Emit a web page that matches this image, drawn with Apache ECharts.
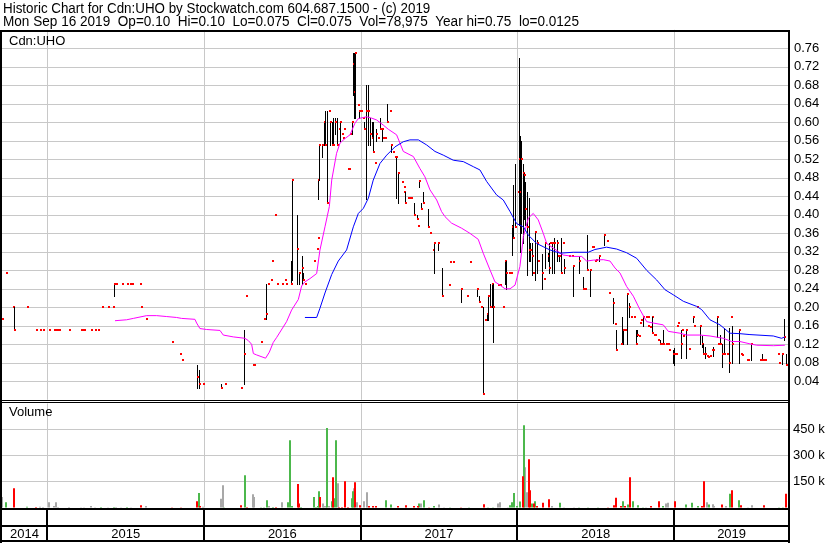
<!DOCTYPE html>
<html><head><meta charset="utf-8">
<script src="https://cdn.jsdelivr.net/npm/echarts@6/dist/echarts.min.js"></script>
<style>html,body{margin:0;padding:0;background:#fff}#c{width:830px;height:543px}</style>
</head><body><div id="c"></div>
<script>
const titleLine1 = 'Historic Chart for Cdn:UHO by Stockwatch.com 604.687.1500 - (c) 2019';
const titleLine2 = 'Mon Sep 16 2019  Op=0.10  Hi=0.10  Lo=0.075  Cl=0.075  Vol=78,975  Year hi=0.75  lo=0.0125';
const symbolLabel = 'Cdn:UHO';
const volumeLabel = 'Volume';
const xMin = 2014.7109, xMax = 2019.7269;
const yearTicks = [2015, 2016, 2017, 2018, 2019];
const yearLabels = ['2014', '2015', '2016', '2017', '2018', '2019'];
const yearLabelPos = [2014.855, 2015.5, 2016.5, 2017.5, 2018.5, 2019.367];

// price bars: [decimal year, low, high, close]
const priceBars = [
[2014.709,.175,.175,.175],[2014.736,.275,.275,.275],[2014.779,.20,.20,.20],[2014.787,.15,.20,.15],
[2014.868,.20,.20,.20],[2014.928,.15,.15,.15],[2014.953,.15,.15,.15],[2014.970,.15,.15,.15],
[2015.011,.15,.15,.15],[2015.045,.15,.15,.15],[2015.055,.15,.15,.15],[2015.066,.15,.15,.15],
[2015.077,.15,.15,.15],[2015.138,.15,.15,.15],[2015.215,.15,.15,.15],[2015.226,.15,.15,.15],
[2015.234,.15,.15,.15],[2015.279,.15,.15,.15],[2015.304,.15,.15,.15],[2015.321,.15,.15,.15],
[2015.347,.20,.20,.20],[2015.385,.20,.20,.20],[2015.417,.20,.20,.20],[2015.428,.225,.25,.25],
[2015.438,.25,.25,.25],[2015.477,.25,.25,.25],[2015.508,.25,.25,.25],[2015.528,.25,.25,.25],
[2015.540,.25,.25,.25],[2015.591,.25,.25,.25],[2015.598,.20,.20,.20],[2015.630,.175,.175,.175],
[2015.793,.125,.125,.125],[2015.849,.10,.10,.10],[2015.857,.085,.085,.085],[2015.953,.025,.075,.05],
[2015.970,.025,.065,.035],[2015.991,.035,.035,.035],[2016.108,.025,.035,.025],[2016.134,.035,.035,.035],
[2016.236,.025,.025,.025],[2016.257,.035,.15,.10],[2016.266,.225,.225,.225],[2016.312,.075,.075,.075],
[2016.318,.075,.075,.075],[2016.362,.125,.125,.125],[2016.383,.175,.175,.175],[2016.396,.175,.25,.185],
[2016.410,.25,.25,.25],[2016.425,.26,.26,.26],[2016.432,.30,.30,.30],[2016.453,.40,.40,.40],
[2016.464,.25,.25,.25],[2016.495,.25,.25,.25],[2016.517,.26,.26,.26],[2016.523,.25,.25,.25],
[2016.553,.25,.30,.25],[2016.559,.26,.475,.475],[2016.595,.25,.40,.325],[2016.608,.25,.275,.275],
[2016.623,.25,.31,.285],[2016.634,.26,.275,.26],[2016.644,.25,.25,.25],[2016.700,.30,.30,.30],
[2016.719,.325,.325,.325],[2016.725,.35,.35,.35],[2016.729,.435,.475,.475],[2016.735,.475,.55,.55],
[2016.755,.525,.55,.55],[2016.765,.55,.60,.60],[2016.774,.55,.625,.55],[2016.782,.425,.625,.425],
[2016.797,.625,.625,.625],[2016.803,.55,.60,.60],[2016.814,.55,.60,.55],[2016.825,.55,.61,.55],
[2016.835,.575,.61,.60],[2016.846,.55,.61,.55],[2016.863,.585,.585,.585],[2016.867,.56,.60,.60],
[2016.878,.575,.575,.575],[2016.884,.565,.565,.565],[2016.895,.585,.585,.585],[2016.920,.50,.50,.50],
[2016.926,.50,.50,.50],[2016.931,.575,.575,.575],[2016.942,.575,.60,.60],[2016.948,.66,.75,.725],
[2016.957,.61,.75,.665],[2016.965,.61,.75,.75],[2016.980,.637,.637,.637],[2016.986,.61,.625,.625],
[2016.999,.625,.625,.625],[2017.012,.61,.61,.61],[2017.023,.585,.60,.585],[2017.037,.435,.68,.625],
[2017.046,.55,.68,.625],[2017.059,.55,.61,.575],[2017.069,.57,.60,.565],[2017.080,.535,.60,.535],
[2017.091,.513,.513,.513],[2017.099,.56,.585,.575],[2017.110,.565,.565,.565],[2017.123,.585,.61,.585],
[2017.133,.56,.585,.585],[2017.144,.565,.565,.565],[2017.157,.565,.565,.565],[2017.169,.60,.64,.60],
[2017.186,.625,.625,.625],[2017.191,.535,.55,.55],[2017.203,.535,.535,.535],[2017.216,.524,.524,.524],
[2017.225,.437,.524,.524],[2017.240,.425,.49,.49],[2017.263,.47,.47,.47],[2017.274,.45,.45,.45],
[2017.278,.46,.46,.46],[2017.285,.425,.45,.425],[2017.300,.437,.437,.437],[2017.310,.437,.437,.437],
[2017.321,.437,.437,.437],[2017.342,.40,.425,.40],[2017.357,.39,.40,.39],[2017.363,.376,.376,.376],
[2017.374,.46,.475,.473],[2017.383,.412,.425,.412],[2017.400,.425,.45,.425],[2017.431,.373,.412,.373],
[2017.442,.36,.36,.36],[2017.459,.324,.324,.324],[2017.468,.275,.338,.338],[2017.495,.324,.338,.338],
[2017.517,.225,.286,.225],[2017.563,.248,.248,.248],[2017.570,.298,.298,.298],[2017.591,.298,.298,.298],
[2017.638,.212,.239,.239],[2017.676,.225,.225,.225],[2017.697,.298,.298,.298],[2017.740,.225,.239,.239],
[2017.757,.212,.225,.212],[2017.768,.20,.20,.20],[2017.782,.0125,.20,.0125],[2017.793,.173,.173,.173],
[2017.804,.173,.186,.186],[2017.814,.173,.225,.225],[2017.825,.20,.25,.20],[2017.836,.20,.25,.25],
[2017.846,.125,.25,.20],[2017.878,.248,.248,.248],[2017.889,.248,.248,.248],[2017.910,.20,.20,.20],
[2017.921,.25,.30,.30],[2017.927,.24,.30,.275],[2017.944,.275,.275,.275],[2017.957,.275,.275,.275],
[2017.968,.313,.378,.374],[2017.974,.35,.465,.35],[2017.987,.378,.51,.374],[2018.002,.45,.45,.45],
[2018.010,.378,.738,.52],[2018.016,.32,.57,.45],[2018.023,.36,.56,.52],[2018.038,.34,.51,.49],
[2018.044,.39,.49,.487],[2018.050,.378,.47,.412],[2018.059,.32,.45,.374],[2018.063,.27,.45,.374],
[2018.074,.30,.437,.324],[2018.080,.30,.338,.324],[2018.091,.27,.338,.31],[2018.097,.275,.275,.275],
[2018.112,.26,.363,.363],[2018.123,.275,.345,.338],[2018.133,.30,.30,.30],[2018.157,.24,.315,.275],
[2018.170,.262,.262,.262],[2018.178,.285,.338,.338],[2018.193,.30,.317,.31],[2018.199,.275,.338,.285],
[2018.208,.338,.338,.338],[2018.218,.275,.338,.338],[2018.233,.274,.349,.338],[2018.255,.30,.345,.338],
[2018.261,.31,.31,.31],[2018.265,.30,.31,.31],[2018.276,.275,.349,.275],[2018.289,.338,.338,.338],
[2018.297,.275,.305,.285],[2018.331,.31,.31,.31],[2018.346,.31,.31,.31],[2018.357,.225,.29,.29],
[2018.395,.275,.31,.30],[2018.416,.24,.265,.24],[2018.431,.24,.24,.24],[2018.446,.28,.356,.28],
[2018.465,.225,.28,.28],[2018.474,.33,.33,.33],[2018.484,.33,.33,.33],[2018.495,.30,.30,.30],
[2018.501,.302,.302,.302],[2018.518,.30,.31,.31],[2018.555,.335,.356,.356],[2018.569,.343,.343,.343],
[2018.584,.231,.231,.231],[2018.612,.165,.22,.21],[2018.623,.164,.164,.164],[2018.629,.108,.152,.108],
[2018.659,.12,.12,.12],[2018.665,.12,.18,.12],[2018.676,.12,.15,.15],[2018.686,.15,.15,.15],
[2018.701,.12,.228,.228],[2018.712,.18,.21,.20],[2018.723,.18,.18,.18],[2018.746,.18,.18,.18],
[2018.755,.12,.15,.12],[2018.761,.138,.15,.14],[2018.774,.138,.138,.138],[2018.782,.166,.166,.166],
[2018.789,.173,.173,.173],[2018.799,.16,.18,.18],[2018.820,.18,.18,.18],[2018.831,.18,.18,.18],
[2018.835,.16,.16,.16],[2018.846,.157,.157,.157],[2018.857,.18,.18,.18],[2018.861,.145,.18,.145],
[2018.872,.14,.14,.14],[2018.878,.14,.14,.14],[2018.899,.13,.13,.13],[2018.910,.12,.13,.12],
[2018.920,.12,.12,.12],[2018.931,.12,.152,.12],[2018.948,.12,.12,.12],[2018.963,.12,.12,.12],
[2018.967,.108,.108,.108],[2018.991,.08,.108,.10],[2019.001,.076,.112,.10],[2019.012,.10,.10,.10],
[2019.016,.16,.16,.16],[2019.022,.166,.166,.166],[2019.042,.09,.152,.12],[2019.052,.152,.152,.152],
[2019.059,.138,.138,.138],[2019.074,.09,.152,.152],[2019.093,.11,.11,.11],[2019.118,.168,.18,.18],
[2019.129,.16,.16,.16],[2019.144,.20,.20,.20],[2019.165,.12,.16,.16],[2019.176,.115,.138,.12],
[2019.186,.10,.12,.10],[2019.197,.09,.115,.10],[2019.208,.095,.095,.095],[2019.218,.092,.092,.092],
[2019.229,.095,.095,.095],[2019.240,.108,.108,.108],[2019.246,.095,.115,.108],[2019.271,.135,.18,.18],
[2019.282,.12,.12,.12],[2019.293,.12,.14,.12],[2019.303,.07,.12,.10],[2019.320,.10,.155,.10],
[2019.335,.10,.10,.10],[2019.352,.06,.155,.08],[2019.363,.18,.18,.18],[2019.367,.08,.16,.12],
[2019.416,.08,.152,.152],[2019.427,.10,.10,.10],[2019.431,.096,.096,.096],[2019.463,.087,.087,.087],
[2019.474,.087,.087,.087],[2019.488,.087,.12,.12],[2019.548,.085,.085,.085],[2019.559,.087,.10,.087],
[2019.574,.087,.087,.087],[2019.580,.085,.085,.085],[2019.661,.10,.10,.10],[2019.671,.08,.08,.08],
[2019.686,.078,.10,.10],[2019.703,.13,.175,.135],[2019.712,.075,.10,.075]
];

// short moving average (magenta): [decimal year, price]
const maShort = [
[2015.432,.171],[2015.506,.173],[2015.549,.176],[2015.634,.182],[2015.698,.182],[2015.762,.180],
[2015.825,.178],[2015.857,.176],[2015.942,.174],[2015.953,.166],[2015.974,.154],[2016.017,.152],
[2016.102,.150],[2016.123,.14],[2016.187,.136],[2016.261,.133],[2016.283,.128],[2016.304,.12],
[2016.315,.10],[2016.336,.097],[2016.393,.09],[2016.417,.103],[2016.442,.124],[2016.464,.135],
[2016.527,.169],[2016.559,.194],[2016.602,.217],[2016.623,.246],[2016.644,.255],[2016.676,.262],
[2016.719,.273],[2016.740,.324],[2016.772,.374],[2016.800,.418],[2016.815,.475],[2016.846,.533],
[2016.868,.555],[2016.900,.565],[2016.932,.573],[2016.963,.598],[2016.985,.608],[2017.038,.612],
[2017.070,.609],[2017.102,.605],[2017.144,.594],[2017.176,.585],[2017.229,.573],[2017.272,.537],
[2017.336,.526],[2017.378,.50],[2017.410,.482],[2017.442,.454],[2017.485,.432],[2017.516,.407],
[2017.538,.396],[2017.580,.382],[2017.644,.371],[2017.697,.36],[2017.750,.347],[2017.782,.317],
[2017.825,.281],[2017.857,.255],[2017.889,.248],[2017.921,.24],[2017.953,.24],[2017.985,.248],
[2018.016,.288],[2018.038,.353],[2018.070,.393],[2018.101,.403],[2018.133,.389],[2018.165,.36],
[2018.187,.338],[2018.229,.328],[2018.293,.313],[2018.357,.31],[2018.410,.31],[2018.442,.30],
[2018.484,.302],[2018.548,.303],[2018.591,.30],[2018.623,.285],[2018.655,.274],[2018.697,.245],
[2018.740,.224],[2018.782,.195],[2018.825,.169],[2018.867,.166],[2018.931,.162],[2018.963,.148],
[2019.037,.144],[2019.080,.14],[2019.165,.14],[2019.229,.138],[2019.314,.133],[2019.367,.126],
[2019.420,.126],[2019.484,.121],[2019.527,.118],[2019.633,.117],[2019.707,.118]
];

// long moving average (blue): [decimal year, price]
const maLong = [
[2016.644,.178],[2016.719,.178],[2016.740,.198],[2016.772,.231],[2016.815,.271],[2016.857,.30],
[2016.910,.324],[2016.953,.374],[2016.985,.403],[2017.017,.414],[2017.049,.436],[2017.080,.475],
[2017.123,.511],[2017.166,.529],[2017.219,.547],[2017.272,.558],[2017.314,.562],[2017.368,.562],
[2017.421,.551],[2017.474,.537],[2017.527,.529],[2017.591,.518],[2017.655,.515],[2017.719,.504],
[2017.761,.497],[2017.804,.472],[2017.867,.443],[2017.910,.432],[2017.953,.407],[2017.995,.381],
[2018.038,.374],[2018.070,.356],[2018.123,.338],[2018.165,.331],[2018.208,.324],[2018.272,.317],
[2018.357,.319],[2018.452,.319],[2018.495,.325],[2018.569,.33],[2018.633,.326],[2018.697,.318],
[2018.761,.306],[2018.825,.28],[2018.889,.259],[2018.942,.238],[2018.995,.227],[2019.059,.213],
[2019.144,.202],[2019.176,.195],[2019.229,.173],[2019.293,.162],[2019.357,.144],[2019.420,.143],
[2019.484,.141],[2019.633,.138],[2019.686,.133],[2019.707,.136]
];

// volume in thousands: [decimal year, volume k]
const volFlat = [
[2014.702,60],[2014.949,5],[2014.964,3],[2015.002,31],[2015.038,8],[2015.049,31],[2015.060,3],
[2015.134,3],[2015.209,2],[2015.230,2],[2015.272,8],[2015.300,2],[2015.379,2],[2015.432,3],
[2015.464,2],[2015.528,2],[2015.623,8],[2015.985,5],[2016.102,50],[2016.113,129],[2016.304,77],
[2016.315,60],[2016.406,8],[2016.491,31],[2016.751,23],[2016.757,8],[2016.772,8],[2016.793,8],
[2016.846,140],[2016.953,111],[2016.970,31],[2017.016,36],[2017.034,88],[2017.378,23],[2017.495,17],
[2017.527,2],[2017.871,23],[2017.884,31],[2017.931,2],[2018.042,232],[2018.052,88],[2018.214,8],
[2018.293,2],[2018.356,2],[2018.814,2],[2018.942,23],[2018.956,27],[2019.203,31],[2019.239,19],
[2019.250,8],[2019.325,8],[2019.463,2],[2019.488,13]
];
const volUp = [
[2014.728,31],[2014.864,5],[2015.336,3],[2015.421,3],[2015.502,3],[2015.964,83],[2016.123,2],
[2016.255,186],[2016.357,2],[2016.379,2],[2016.393,42],[2016.432,3],[2016.527,31],[2016.544,388],
[2016.555,8],[2016.612,3],[2016.693,60],[2016.710,3],[2016.719,8],[2016.729,94],[2016.778,458],
[2016.810,36],[2016.825,54],[2016.838,388],[2016.936,54],[2016.942,94],[2017.155,42],[2017.187,17],
[2017.368,23],[2017.395,42],[2017.463,8],[2017.565,2],[2017.686,2],[2017.803,2],[2017.835,2],
[2017.948,13],[2017.959,31],[2017.969,83],[2017.990,8],[2018.012,35],[2018.037,475],[2018.084,23],
[2018.107,36],[2018.265,27],[2018.388,2],[2018.442,2],[2018.505,2],[2018.669,36],[2018.697,17],
[2018.729,36],[2018.761,13],[2018.793,2],[2018.920,8],[2019.069,17],[2019.111,27],[2019.148,8],
[2019.214,17],[2019.350,79],[2019.410,42],[2019.665,2],[2019.686,2]
];
const volDown = [
[2014.779,111],[2014.921,3],[2015.591,13],[2015.787,2],[2015.847,2],[2015.949,36],[2015.970,8],
[2016.230,13],[2016.268,3],[2016.453,3],[2016.591,135],[2016.602,23],[2016.736,60],[2016.817,175],
[2016.857,3],[2016.874,3],[2016.895,152],[2016.910,3],[2016.959,146],[2016.989,13],[2017.049,8],
[2017.070,8],[2017.091,8],[2017.229,8],[2017.282,13],[2017.335,8],[2017.361,8],[2017.431,2],
[2017.633,2],[2017.778,19],[2018.027,180],[2018.065,279],[2018.076,100],[2018.097,23],[2018.118,8],
[2018.154,27],[2018.197,48],[2018.569,2],[2018.612,13],[2018.622,56],[2018.654,8],[2018.682,8],
[2018.712,175],[2018.846,8],[2018.899,36],[2019.001,36],[2019.171,8],[2019.186,152],[2019.297,17],
[2019.361,100],[2019.420,13],[2019.569,13],[2019.707,79]
];

const FONT = 'Liberation Sans, Arial, sans-serif';
const GRID_GRAY = '#c8c8c8';

const chart = echarts.init(document.getElementById('c'), null, {renderer: 'canvas'});

function yearLineRenderer(color, width) {
  return function (params, api) {
    const cs = params.coordSys;
    const p = api.coord([api.value(0), 0]);
    const x = Math.round(p[0]) + (width % 2 ? 0.5 : 0);
    return {type: 'line', shape: {x1: x, y1: cs.y, x2: x, y2: cs.y + cs.height},
      style: {stroke: color, lineWidth: width}, silent: true};
  };
}

function priceBarRenderer(params, api) {
  const x = api.value(0), lo = api.value(1), hi = api.value(2), cl = api.value(3);
  const pLo = api.coord([x, lo]), pHi = api.coord([x, hi]), pCl = api.coord([x, cl]);
  const px = Math.round(pLo[0]);
  const children = [];
  if (hi > lo) {
    children.push({type: 'line', shape: {x1: px + 0.5, y1: Math.round(pHi[1]), x2: px + 0.5, y2: Math.round(pLo[1]) + 1},
      style: {stroke: '#000', lineWidth: 1}});
  }
  children.push({type: 'rect', shape: {x: px, y: Math.round(pCl[1]) - 1, width: 2, height: 2},
    style: {fill: '#ff0000'}});
  return {type: 'group', children: children};
}

function volRenderer(color) {
  return function (params, api) {
    const p = api.coord([api.value(0), api.value(1)]);
    const p0 = api.coord([api.value(0), 0]);
    const px = Math.round(p[0]);
    return {type: 'rect', shape: {x: px, y: p[1], width: 2, height: p0[1] - p[1]},
      style: {fill: color}};
  };
}

function labelRenderer(params, api) {
  const p = api.coord([api.value(0), 0.5]);
  return {type: 'text', x: p[0], y: p[1],
    style: {text: yearLabels[api.value(1)], font: '13px ' + FONT, fill: '#000', align: 'center', verticalAlign: 'middle'}};
}

const xAxisBase = {type: 'value', min: xMin, max: xMax, show: false};

const option = {
  animation: false,
  backgroundColor: '#fff',
  grid: [
    {left: 2, right: 42, top: 29.8, bottom: 143.2},
    {left: 2, right: 42, top: 403.5, bottom: 35.5},
    {left: 2, right: 42, top: 510, bottom: 1}
  ],
  xAxis: [
    Object.assign({gridIndex: 0}, xAxisBase),
    Object.assign({gridIndex: 1}, xAxisBase),
    Object.assign({gridIndex: 2}, xAxisBase)
  ],
  yAxis: [
    {gridIndex: 0, type: 'value', position: 'right', min: 0, max: 0.8, interval: 0.04,
      axisLine: {show: false}, axisTick: {show: false},
      axisLabel: {showMinLabel: false, showMaxLabel: false, margin: 6, color: '#000',
        fontFamily: FONT, fontSize: 13, formatter: v => v.toFixed(2)},
      splitLine: {show: true, showMinLine: false, showMaxLine: false, lineStyle: {color: GRID_GRAY, width: 1}}},
    {gridIndex: 1, type: 'value', position: 'right', min: 0, max: 600, interval: 150,
      axisLine: {show: false}, axisTick: {show: false},
      axisLabel: {showMinLabel: false, showMaxLabel: false, margin: 5, color: '#000',
        fontFamily: FONT, fontSize: 13, formatter: v => v + ' k'},
      splitLine: {show: true, showMinLine: false, showMaxLine: false, lineStyle: {color: GRID_GRAY, width: 1}}},
    {gridIndex: 2, type: 'value', min: 0, max: 2, show: false}
  ],
  series: [
    {type: 'custom', name: 'yearGridPrice', xAxisIndex: 0, yAxisIndex: 0, z: 1, silent: true,
      data: yearTicks.map(v => [v]), encode: {x: 0}, renderItem: yearLineRenderer(GRID_GRAY, 1)},
    {type: 'custom', name: 'yearGridVol', xAxisIndex: 1, yAxisIndex: 1, z: 1, silent: true,
      data: yearTicks.map(v => [v]), encode: {x: 0}, renderItem: yearLineRenderer(GRID_GRAY, 1)},
    {type: 'custom', name: 'yearSep', xAxisIndex: 2, yAxisIndex: 2, z: 1, silent: true,
      data: yearTicks.map(v => [v]), encode: {x: 0}, renderItem: yearLineRenderer('#000', 2)},
    {type: 'custom', name: 'yearLabels', xAxisIndex: 2, yAxisIndex: 2, z: 3, silent: true,
      data: yearLabelPos.map((p, i) => [p, i]), encode: {x: 0}, renderItem: labelRenderer},
    {type: 'custom', name: 'Cdn:UHO', xAxisIndex: 0, yAxisIndex: 0, z: 3, clip: true,
      data: priceBars, encode: {x: 0, y: [1, 2, 3]}, renderItem: priceBarRenderer},
    {type: 'line', name: 'MA short', xAxisIndex: 0, yAxisIndex: 0, z: 4, data: maShort,
      showSymbol: false, symbol: 'none', lineStyle: {color: '#ff00ff', width: 1}},
    {type: 'line', name: 'MA long', xAxisIndex: 0, yAxisIndex: 0, z: 4, data: maLong,
      showSymbol: false, symbol: 'none', lineStyle: {color: '#0000ff', width: 1}},
    {type: 'custom', name: 'volFlat', xAxisIndex: 1, yAxisIndex: 1, z: 3, data: volFlat,
      encode: {x: 0, y: 1}, renderItem: volRenderer('#a8a8a8')},
    {type: 'custom', name: 'volUp', xAxisIndex: 1, yAxisIndex: 1, z: 3, data: volUp,
      encode: {x: 0, y: 1}, renderItem: volRenderer('#4cb84c')},
    {type: 'custom', name: 'volDown', xAxisIndex: 1, yAxisIndex: 1, z: 3, data: volDown,
      encode: {x: 0, y: 1}, renderItem: volRenderer('#ff0000')}
  ],
  graphic: [
    {type: 'text', x: 3, y: 2, scaleX: 0.955, z: 100, style: {text: titleLine1, font: '14px ' + FONT, fill: '#000'}},
    {type: 'text', x: 3, y: 15, scaleX: 0.97, z: 100, style: {text: titleLine2, font: '14px ' + FONT, fill: '#000'}},
    {type: 'text', left: 9, top: 35, z: 100, style: {text: symbolLabel, font: '13px ' + FONT, fill: '#000'}},
    {type: 'text', left: 9, top: 406, z: 100, style: {text: volumeLabel, font: '13px ' + FONT, fill: '#000'}},
    {type: 'rect', z: 100, shape: {x: 0, y: 30, width: 790, height: 2}, style: {fill: '#000'}},
    {type: 'rect', z: 100, shape: {x: 0, y: 30, width: 2, height: 513}, style: {fill: '#000'}},
    {type: 'rect', z: 100, shape: {x: 788, y: 30, width: 2, height: 513}, style: {fill: '#000'}},
    {type: 'rect', z: 100, shape: {x: 0, y: 400, width: 790, height: 1}, style: {fill: '#000'}},
    {type: 'rect', z: 100, shape: {x: 0, y: 402, width: 790, height: 1}, style: {fill: '#000'}},
    {type: 'rect', z: 100, shape: {x: 0, y: 508, width: 790, height: 2}, style: {fill: '#000'}},
    {type: 'rect', z: 100, shape: {x: 0, y: 525, width: 790, height: 2}, style: {fill: '#000'}},
    {type: 'rect', z: 100, shape: {x: 0, y: 540, width: 790, height: 2}, style: {fill: '#000'}}
  ]
};
chart.setOption(option);
</script>
</body></html>
